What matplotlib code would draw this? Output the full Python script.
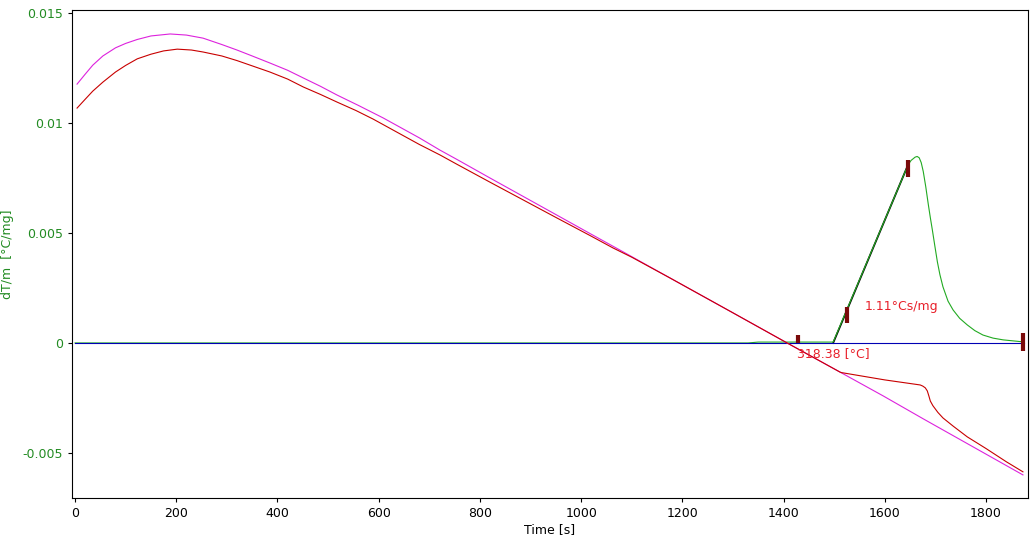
import matplotlib
matplotlib.use("Agg")
import matplotlib.pyplot as plt

# sample curves (time in s, dT/m in °C/mg)
mag_t = [4, 20, 35, 55, 80, 100, 123, 150, 188, 220, 253, 290, 320, 350, 385, 420, 451,
         485, 518, 560, 609, 680, 721, 755, 820, 885, 950, 1018, 1077, 1176, 1300, 1407,
         1512, 1597, 1676, 1873]
mag_v = [0.01177, 0.01222, 0.01263, 0.01305, 0.01342, 0.01362, 0.01380, 0.01396, 0.01405,
         0.01400, 0.01386, 0.01357, 0.01332, 0.01305, 0.01273, 0.01240, 0.01205, 0.01167,
         0.01127, 0.01080, 0.01023, 0.00933, 0.00877, 0.00834, 0.00750, 0.00667, 0.00584,
         0.00497, 0.00422, 0.00295, 0.00137, 0.0, -0.00133, -0.00241, -0.00345, -0.00600]

red_t = [4, 20, 35, 55, 80, 100, 123, 150, 175, 202, 230, 253, 290, 320, 350, 385, 420,
         451, 485, 518, 555, 589, 623, 680, 721, 755, 820, 885, 950, 1018, 1063, 1100,
         1176, 1300, 1407, 1512, 1515, 1600, 1670, 1675, 1680, 1684, 1687, 1690, 1695,
         1705, 1715, 1735, 1763, 1800, 1840, 1873]
red_v = [0.01068, 0.01108, 0.01145, 0.01186, 0.01232, 0.01262, 0.01292, 0.01313, 0.01328,
         0.01336, 0.01332, 0.01323, 0.01305, 0.01284, 0.01260, 0.01232, 0.01200, 0.01164,
         0.01130, 0.01095, 0.01057, 0.01018, 0.00975, 0.00903, 0.00855, 0.00812, 0.00731,
         0.00651, 0.00571, 0.00488, 0.00432, 0.00390, 0.00295, 0.00137, 0.0, -0.00133,
         -0.00135, -0.00168, -0.00191, -0.00196, -0.00204, -0.00218, -0.00240, -0.00264,
         -0.00285, -0.00316, -0.00341, -0.00378, -0.00427, -0.00480, -0.00540, -0.00586]

grn_t = [0, 1330, 1350, 1498, 1646, 1652, 1660, 1664, 1668, 1672, 1676, 1681, 1686, 1690,
         1694, 1699, 1704, 1709, 1715, 1725, 1735, 1748, 1763, 1778, 1794, 1814, 1834, 1873]
grn_v = [0.0, 0.0, 0.00004, 0.00004, 0.0081, 0.00830, 0.00845, 0.00848, 0.00842, 0.0082,
         0.0078, 0.0071, 0.0063, 0.0057, 0.00514, 0.0044, 0.00368, 0.0031, 0.00255, 0.0019,
         0.0015, 0.00112, 0.00082, 0.00056, 0.00036, 0.00022, 0.00014, 0.00005]

base_t = [0, 1875]
base_v = [0.0, 0.0]

tan_t = [1498, 1646]
tan_v = [0.0, 0.0081]

# limit markers: time, low, high
mark_t = [1429, 1526, 1646, 1873]
mark_lo = [0.0, 0.00091, 0.00755, -0.00036]
mark_hi = [0.00036, 0.00164, 0.00832, 0.00045]

yticks = [-0.005, 0, 0.005, 0.01, 0.015]
ytick_labels = ["-0.005", "0", "0.005", "0.01", "0.015"]
xticks = [0, 200, 400, 600, 800, 1000, 1200, 1400, 1600, 1800]

fig = plt.figure(figsize=(10.32, 5.44), dpi=100)
ax = fig.add_axes([72 / 1032, 46 / 544, 956 / 1032, 488 / 544])

ax.plot(tan_t, tan_v, color="black", lw=1.3)
ax.plot(grn_t, grn_v, color="#22aa22", lw=0.8)
ax.plot(base_t, base_v, color="#0000b4", lw=0.8)
ax.plot(mag_t, mag_v, color="#dd22dd", lw=0.8)
ax.plot(red_t, red_v, color="#c80000", lw=0.8)
ax.vlines(mark_t, mark_lo, mark_hi, color="#7a0a0a", lw=3)

ax.text(1560, 0.00167, "1.11°Cs/mg", color="#e8202a", fontsize=9, va="center")
ax.text(1427, -0.00047, "318.38 [°C]", color="#e8202a", fontsize=9, va="center")

ax.set_xlim(-6, 1883)
ax.set_ylim(-0.00705, 0.01514)
ax.set_xticks(xticks)
ax.set_yticks(yticks)
ax.set_yticklabels(ytick_labels)
ax.tick_params(axis="y", colors="black", labelcolor="#228b22", labelsize=9, length=3)
ax.tick_params(axis="x", labelsize=9, length=3)
ax.set_xlabel("Time [s]", fontsize=9, labelpad=2)
ax.set_ylabel("dT/m  [°C/mg]", fontsize=9, color="#228b22")
ax.yaxis.set_label_coords(-58 / 956, 0.5)

fig.savefig("out.png", dpi=100)
